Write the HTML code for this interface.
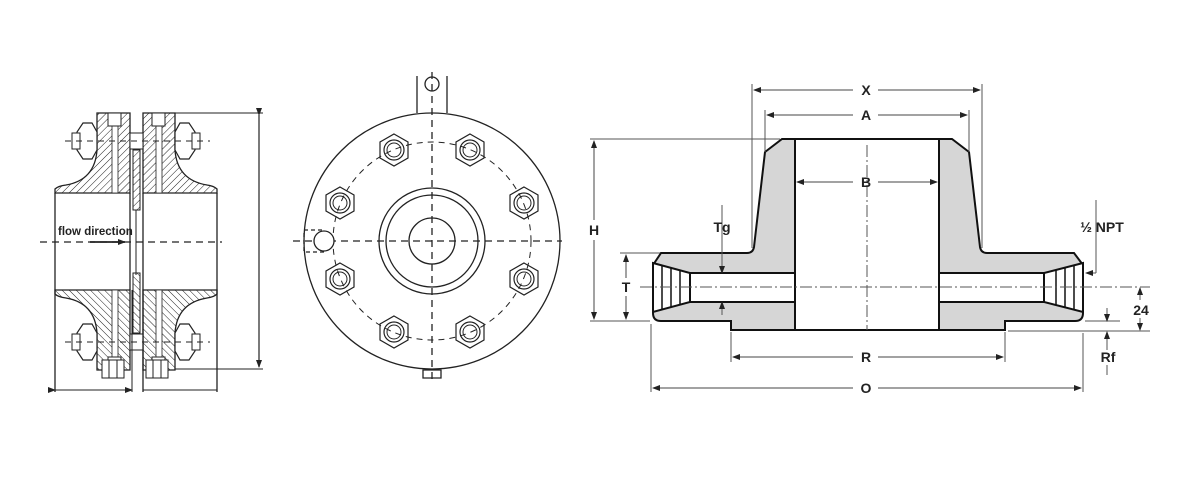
<!DOCTYPE html>
<html><head><meta charset="utf-8"><style>
html,body{margin:0;padding:0;background:#fff}
svg{display:block}
text{font-family:"Liberation Sans",sans-serif;font-weight:bold;fill:#222}
</style></head><body>
<svg width="1200" height="500" viewBox="0 0 1200 500" xmlns="http://www.w3.org/2000/svg">
<defs>
<pattern id="h" width="5" height="5" patternUnits="userSpaceOnUse" patternTransform="rotate(45)">
<line x1="0" y1="0" x2="0" y2="5" stroke="#222" stroke-width="1"/>
</pattern>
<marker id="ar" markerWidth="8" markerHeight="8" refX="7" refY="4" orient="auto" markerUnits="userSpaceOnUse">
<path d="M0,1 L8,4 L0,7 Z" fill="#222"/></marker>
<g id="nut"><polygon points="0,-16 14,-8 14,8 0,16 -14,8 -14,-8" fill="none" stroke="#222" stroke-width="1.2"/>
<circle r="10" fill="none" stroke="#222" stroke-width="1.2"/><circle r="7" fill="none" stroke="#222"/></g>
<g id="half">
<path d="M97,113 H130 V193 H55 V189 Q58,186 66,185 Q95,180 97,150 Z" fill="url(#h)" stroke="#222" stroke-width="1.3"/>
<path d="M143,113 H175 V150 Q177,180 207,185 Q214,186 217,189 V193 H143 Z" fill="url(#h)" stroke="#222" stroke-width="1.3"/>
<rect x="112" y="126" width="6" height="67" fill="#fff" stroke="#222" stroke-width="0.8"/>
<rect x="156" y="126" width="6" height="67" fill="#fff" stroke="#222" stroke-width="0.8"/>
<rect x="108" y="113" width="13" height="13" fill="#fff" stroke="#222"/>
<rect x="152" y="113" width="13" height="13" fill="#fff" stroke="#222"/>
<path d="M83,123 h9 l5,9 v18 l-5,9 h-9 l-6,-9 v-18 z" fill="#fff" stroke="#222" stroke-width="1.2"/>
<rect x="72" y="133" width="8" height="16" fill="#fff" stroke="#222"/>
<path d="M180,123 h9 l6,9 v18 l-6,9 h-9 l-5,-9 v-18 z" fill="#fff" stroke="#222" stroke-width="1.2"/>
<rect x="192" y="133" width="8" height="16" fill="#fff" stroke="#222"/>
<rect x="130" y="133" width="13" height="16" fill="#fff" stroke="#222"/>
<line x1="65" y1="141" x2="210" y2="141" stroke="#222" stroke-dasharray="6,5"/>
<rect x="133" y="150" width="7" height="60" fill="url(#h)" stroke="#222"/>
</g>
</defs>

<!-- LEFT VIEW -->
<use href="#half"/>
<use href="#half" transform="translate(0,483) scale(1,-1)"/>
<line x1="136" y1="210" x2="136" y2="275" stroke="#222"/>
<line x1="55" y1="193" x2="55" y2="392" stroke="#222" stroke-width="1.3"/>
<line x1="130" y1="193" x2="130" y2="290" stroke="#222" stroke-width="1.3"/>
<line x1="132" y1="290" x2="132" y2="392" stroke="#222"/>
<line x1="143" y1="193" x2="143" y2="392" stroke="#222" stroke-width="1.3"/>
<line x1="217" y1="193" x2="217" y2="392" stroke="#222" stroke-width="1.3"/>
<line x1="55" y1="390" x2="132" y2="390" stroke="#222" marker-start="url(#ar)" marker-end="url(#ar)"/>
<line x1="143" y1="390" x2="217" y2="390" stroke="#222"/>
<line x1="40" y1="242" x2="222" y2="242" stroke="#222" stroke-width="1.2" stroke-dasharray="7,5"/>
<line x1="175" y1="113" x2="263" y2="113" stroke="#222"/>
<line x1="175" y1="369" x2="263" y2="369" stroke="#222"/>
<line x1="259" y1="115" x2="259" y2="367" stroke="#222" stroke-width="1.2" marker-start="url(#ar)" marker-end="url(#ar)"/>
<path d="M102,360 h22 v18 h-22 z M109,360 v18 M117,360 v18" fill="#fff" stroke="#222"/>
<path d="M146,360 h22 v18 h-22 z M153,360 v18 M161,360 v18" fill="#fff" stroke="#222"/>
<text x="58" y="235" font-size="11.5" font-weight="normal">flow direction</text>
<line x1="90" y1="242" x2="125" y2="242" stroke="#222" stroke-width="1.8" marker-end="url(#ar)"/>

<!-- MIDDLE VIEW -->
<g stroke="#222" fill="none" stroke-width="1.3">
<path d="M417,76 V113 M447,76 V113"/>
<circle cx="432" cy="84" r="7"/>
<circle cx="432" cy="241" r="128" fill="#fff"/>
<circle cx="432" cy="241" r="99" stroke-dasharray="6,5" stroke-width="1"/>
<circle cx="432" cy="241" r="53"/>
<circle cx="432" cy="241" r="46"/>
<circle cx="432" cy="241" r="23"/>
<line x1="432" y1="72" x2="432" y2="380" stroke-dasharray="7,5"/>
<line x1="293" y1="241" x2="562" y2="241" stroke-dasharray="7,5"/>
<rect x="304" y="230" width="20" height="22" stroke-dasharray="4,3"/>
<circle cx="324" cy="241" r="10" fill="#fff"/>
<path d="M423,370 h18 v8 h-18 z"/>
</g>
<use href="#nut" transform="translate(394,150)"/>
<use href="#nut" transform="translate(470,150)"/>
<use href="#nut" transform="translate(340,203)"/>
<use href="#nut" transform="translate(524,203)"/>
<use href="#nut" transform="translate(340,279)"/>
<use href="#nut" transform="translate(524,279)"/>
<use href="#nut" transform="translate(394,332)"/>
<use href="#nut" transform="translate(470,332)"/>

<!-- RIGHT VIEW -->
<path d="M782,139 H952 L969,152 L980,247 Q981,253 987,253 H1074 L1083,265 V313 Q1083,321 1075,321 H1005 V330 H731 V321 H661 Q653,321 653,313 V265 L661,253 H747 Q753,253 754,247 L765,152 Z" fill="#d6d6d6" stroke="#111" stroke-width="2"/>
<rect x="795" y="139" width="144" height="191" fill="#fff" stroke="#111" stroke-width="2"/>
<rect x="690" y="273" width="105" height="29" fill="#fff" stroke="#111" stroke-width="2"/>
<rect x="939" y="273" width="105" height="29" fill="#fff" stroke="#111" stroke-width="2"/>
<path d="M653,263 L690,273 V302 L653,312 Z" fill="#fff" stroke="#111" stroke-width="2"/>
<path d="M1083,263 L1044,273 V302 L1083,312 Z" fill="#fff" stroke="#111" stroke-width="2"/>
<g stroke="#111" stroke-width="1.5">
<line x1="662" y1="265" x2="662" y2="310"/><line x1="671" y1="268" x2="671" y2="307"/><line x1="680" y1="270" x2="680" y2="305"/>
<line x1="1074" y1="265" x2="1074" y2="310"/><line x1="1065" y1="268" x2="1065" y2="307"/><line x1="1056" y1="270" x2="1056" y2="305"/>
</g>
<g stroke="#555" stroke-width="1" fill="none">
<line x1="867" y1="145" x2="867" y2="330" stroke-dasharray="12,3,2,3"/>
<line x1="640" y1="287" x2="1150" y2="287" stroke-dasharray="12,3,2,3"/>
<line x1="752" y1="84" x2="752" y2="248"/><line x1="982" y1="84" x2="982" y2="248"/>
<line x1="765" y1="110" x2="765" y2="152"/><line x1="969" y1="110" x2="969" y2="152"/>
<line x1="590" y1="139" x2="780" y2="139"/>
<line x1="590" y1="321" x2="650" y2="321"/>
<line x1="620" y1="253" x2="660" y2="253"/>
<line x1="731" y1="332" x2="731" y2="362"/><line x1="1005" y1="332" x2="1005" y2="362"/>
<line x1="651" y1="324" x2="651" y2="392"/><line x1="1083" y1="333" x2="1083" y2="392"/>
<line x1="1085" y1="321" x2="1120" y2="321"/>
<line x1="1008" y1="331" x2="1150" y2="331"/>
<line x1="1096" y1="200" x2="1096" y2="273"/><line x1="1096" y1="273" x2="1086" y2="273" marker-end="url(#ar)"/>
<line x1="722" y1="205" x2="722" y2="273" marker-end="url(#ar)"/>
<line x1="722" y1="315" x2="722" y2="302" marker-end="url(#ar)"/>
<line x1="1107" y1="308" x2="1107" y2="321" marker-end="url(#ar)"/>
<line x1="1107" y1="350" x2="1107" y2="332" marker-end="url(#ar)"/>
<line x1="1107" y1="365" x2="1107" y2="375"/>
<line x1="1140" y1="300" x2="1140" y2="288" marker-end="url(#ar)"/>
<line x1="1140" y1="318" x2="1140" y2="330" marker-end="url(#ar)"/>
</g>
<g stroke="#444" stroke-width="1" fill="none">
<line x1="853" y1="90" x2="754" y2="90" marker-end="url(#ar)"/><line x1="878" y1="90" x2="980" y2="90" marker-end="url(#ar)"/>
<line x1="853" y1="115" x2="767" y2="115" marker-end="url(#ar)"/><line x1="878" y1="115" x2="967" y2="115" marker-end="url(#ar)"/>
<line x1="853" y1="182" x2="797" y2="182" marker-end="url(#ar)"/><line x1="878" y1="182" x2="937" y2="182" marker-end="url(#ar)"/>
<line x1="594" y1="220" x2="594" y2="141" marker-end="url(#ar)"/><line x1="594" y1="240" x2="594" y2="319" marker-end="url(#ar)"/>
<line x1="626" y1="278" x2="626" y2="255" marker-end="url(#ar)"/><line x1="626" y1="296" x2="626" y2="319" marker-end="url(#ar)"/>
<line x1="853" y1="357" x2="733" y2="357" marker-end="url(#ar)"/><line x1="878" y1="357" x2="1003" y2="357" marker-end="url(#ar)"/>
<line x1="853" y1="388" x2="653" y2="388" marker-end="url(#ar)"/><line x1="878" y1="388" x2="1081" y2="388" marker-end="url(#ar)"/>
</g>
<g font-size="14" text-anchor="middle">
<text x="866" y="95">X</text><text x="866" y="120">A</text><text x="866" y="187">B</text>
<text x="594" y="235">H</text><text x="626" y="292">T</text><text x="722" y="232">Tg</text>
<text x="1102" y="232">½ NPT</text><text x="1141" y="315">24</text><text x="1108" y="362">Rf</text>
<text x="866" y="362">R</text><text x="866" y="393">O</text>
</g>
</svg>
</body></html>
